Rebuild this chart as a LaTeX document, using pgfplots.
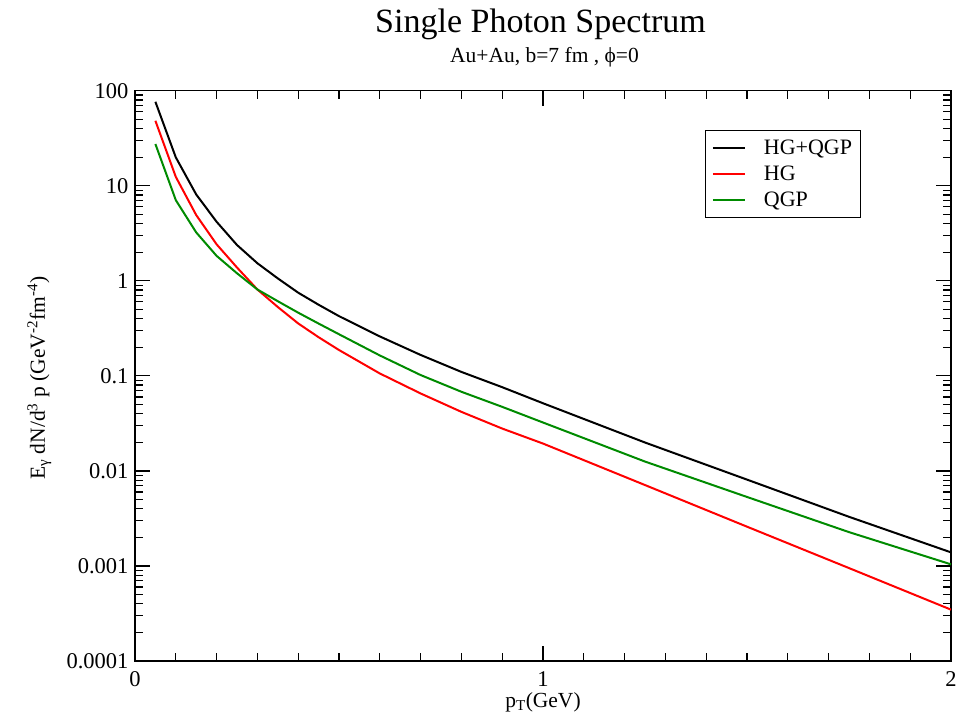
\documentclass[border=0pt]{standalone}
\usepackage{fontspec}
\setmainfont{Liberation Serif}
\usepackage{pgfplots}
\pgfplotsset{compat=1.18}
\definecolor{ggreen}{RGB}{0,139,0}
\pgfplotstableread{
x      hgqgp     hg        qgp
0.05   76.5      48.3      27.5
0.10   19.9      12.4      7.06
0.15   8.1       4.92      3.23
0.20   4.18      2.42      1.83
0.25   2.38      1.38      1.20
0.30   1.53      0.81      0.81
0.35   1.06      0.53      0.610
0.40   0.75      0.356     0.462
0.45   0.56      0.255     0.355
0.50   0.425     0.187     0.274
0.60   0.260     0.106     0.164
0.70   0.166     0.0653    0.102
0.80   0.110     0.0418    0.068
0.90   0.0760    0.0279    0.0472
1.00   0.0515    0.0194    0.0323
1.25   0.0199    0.0071    0.01254
1.50   0.00810   0.00259   0.00532
1.75   0.00329   0.00095   0.00227
2.00   0.00139   0.000347  0.00104
}\datatable
\begin{document}
\begin{tikzpicture}
\begin{axis}[
  scale only axis, width=816pt, height=570.3pt,
  xmin=0, xmax=2, ymin=1e-4, ymax=100, ymode=log,
  xtick={0,1,2}, xticklabels={0,1,2},
  minor xtick={0.1,0.2,0.3,0.4,0.5,0.6,0.7,0.8,0.9,1.1,1.2,1.3,1.4,1.5,1.6,1.7,1.8,1.9},
  ytick={1e-4,1e-3,1e-2,1e-1,1,10,100},
  yticklabels={0.0001,0.001,0.01,0.1,1,10,100},
  minor ytick={2e-4,3e-4,4e-4,5e-4,6e-4,7e-4,8e-4,9e-4,
               2e-3,3e-3,4e-3,5e-3,6e-3,7e-3,8e-3,9e-3,
               2e-2,3e-2,4e-2,5e-2,6e-2,7e-2,8e-2,9e-2,
               0.2,0.3,0.4,0.5,0.6,0.7,0.8,0.9,
               2,3,4,5,6,7,8,9,
               20,30,40,50,60,70,80,90},
  major tick length=15pt, minor tick length=8pt,
  axis line style={line width=1.5pt},
  every tick/.style={black, line width=1.2pt},
  ticklabel style={font=\fontsize{22.5}{26}\selectfont},
  yticklabel style={xshift=-3pt},
  xticklabel style={yshift=-7pt},
  label style={font=\fontsize{21.5}{25}\selectfont},
  xlabel={p\textsubscript{T}(GeV)},
  ylabel={E\textsubscript{γ} dN/d\textsuperscript{3} p (GeV\textsuperscript{-2}fm\textsuperscript{-4})},
  xlabel style={at={(axis description cs:0.5,-0.081)}, anchor=base},
  ylabel style={at={(axis description cs:-0.1103,0.496)}, anchor=base},
  legend style={at={(axis description cs:0.699,0.931)}, anchor=north west,
    draw=black, line width=1pt, fill=white,
    font=\fontsize{22}{26}\selectfont,
    inner xsep=6pt, inner ysep=4.3pt,
    nodes={inner sep=2pt, text height=18pt, text depth=4pt},
    /tikz/every odd column/.append style={column sep=16pt}},
  legend cell align=left,
  legend image code/.code={\draw[#1] (4pt,0pt) -- (36pt,0pt);},
]
\addplot[black, line width=2pt] table[x=x, y=hgqgp] {\datatable};
\addlegendentry{HG+QGP}
\addplot[red, line width=2pt] table[x=x, y=hg] {\datatable};
\addlegendentry{HG}
\addplot[ggreen, line width=2pt] table[x=x, y=qgp] {\datatable};
\addlegendentry{QGP}
\end{axis}
\node[anchor=base, font=\fontsize{34}{40}\selectfont] at ([xshift=405.5pt, yshift=57.7pt]current axis.north west) {Single Photon Spectrum};
\node[anchor=base, font=\fontsize{21.5}{25}\selectfont] at ([xshift=409.5pt, yshift=27.7pt]current axis.north west) {Au+Au, b=7 fm , ϕ=0};
\pgfresetboundingbox
\path ([xshift=-135pt, yshift=-60pt]current axis.south west) rectangle ([xshift=14pt, yshift=90.7pt]current axis.north east);
\end{tikzpicture}
\end{document}
